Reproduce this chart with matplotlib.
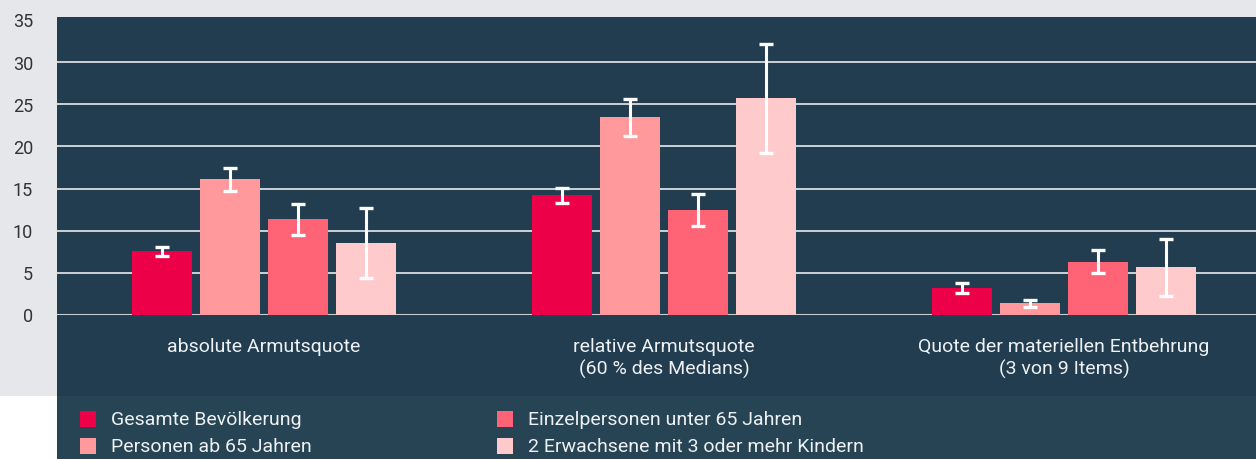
import numpy as np
import matplotlib.pyplot as plt
from matplotlib.patches import Rectangle

# Daten
categories = ['absolute Armutsquote',
              'relative Armutsquote\n(60 % des Medians)',
              'Quote der materiellen Entbehrung\n(3 von 9 Items)']
series_names = ['Gesamte Bevölkerung', 'Personen ab 65 Jahren',
                'Einzelpersonen unter 65 Jahren', '2 Erwachsene mit 3 oder mehr Kindern']
gesamt = [7.6, 14.2, 3.2]
ab65 = [16.1, 23.5, 1.4]
einzel = [11.4, 12.5, 6.3]
familie = [8.5, 25.7, 5.7]
gesamt_lo = [6.95, 13.3, 2.65]
gesamt_hi = [8.1, 15.1, 3.85]
ab65_lo = [14.7, 21.2, 1.0]
ab65_hi = [17.4, 25.6, 1.8]
einzel_lo = [9.5, 10.6, 5.0]
einzel_hi = [13.2, 14.35, 7.7]
familie_lo = [4.4, 19.25, 2.25]
familie_hi = [12.65, 32.2, 9.0]
yticks = [0, 5, 10, 15, 20, 25, 30, 35]

values = [gesamt, ab65, einzel, familie]
lows = [gesamt_lo, ab65_lo, einzel_lo, familie_lo]
highs = [gesamt_hi, ab65_hi, einzel_hi, familie_hi]
colors = ['#ec0048', '#ff999c', '#fe6376', '#ffcacc']

W, H = 1256, 460
panel = '#223d4f'
legend_bg = '#264453'
grey_bg = '#e6e7eb'
font = 'Roboto'

fig = plt.figure(figsize=(W / 100, H / 100), dpi=100, facecolor='white')

def px_rect(x0, y0, x1, y1, color, z=-10):
    # Rechteck in Pixelkoordinaten (y von oben)
    fig.patches.append(Rectangle((x0 / W, 1 - y1 / H), (x1 - x0) / W, (y1 - y0) / H,
                                 transform=fig.transFigure, facecolor=color,
                                 edgecolor='none', zorder=z))

px_rect(0, 0, W, 397, grey_bg, z=-12)
px_rect(57, 18, W, 397, panel, z=-11)
px_rect(57, 397, W, H, legend_bg, z=-11)

ax_left, ax_right, ax_top, ax_bottom = 57, W, 21, 316
ax = fig.add_axes([ax_left / W, 1 - ax_bottom / H, (ax_right - ax_left) / W,
                   (ax_bottom - ax_top) / H])
ax.set_facecolor('none')

x = np.arange(len(categories))
width = 0.152
offsets = [-1.5, -0.5, 0.5, 1.5]
step = 0.17

for ytk in yticks[1:-1]:
    ax.axhline(ytk, color='#e8ecee', lw=1.2, zorder=1)
ax.axhline(0, color='#c9d0d4', lw=1.5, zorder=1)

for vals, lo, hi, col, off in zip(values, lows, highs, colors, offsets):
    xs = x + off * step
    ax.bar(xs, vals, width, color=col, zorder=2)
    v = np.array(vals)
    yerr = np.array([v - np.array(lo), np.array(hi) - v])
    ax.errorbar(xs, v, yerr=yerr, fmt='none', ecolor='white', elinewidth=2.2,
                capsize=4.8, capthick=2.4, zorder=3)

ax.set_xlim(-0.5175, 2.48)
ax.set_ylim(0, 35)
ax.set_xticks([])
ax.set_yticks([])
for s in ax.spines.values():
    s.set_visible(False)

# y-Beschriftung: rechtsbündig ca. 24 px links der Achse
for t in yticks:
    ax.annotate(str(t), xy=(0, t), xycoords=('axes fraction', 'data'),
                xytext=(-24 * 0.72, -1), textcoords='offset points',
                ha='right', va='center', fontsize=13, color='#333333',
                family=font, annotation_clip=False)

for xi, cat in zip(x, categories):
    ax.text(xi, -2.6, cat, ha='center', va='top', color='#eef1f3', fontsize=14,
            family=font, linespacing=1.25, transform=ax.transData, clip_on=False)

# Legende
leg_items = [(80, 420, 0), (80, 447, 1), (497, 420, 2), (497, 447, 3)]
for lx, ly, i in leg_items:
    px_rect(lx, ly - 8, lx + 16, ly + 8, colors[i], z=2)
    fig.text((lx + 31) / W, 1 - ly / H, series_names[i], ha='left', va='center',
             color='#eef1f3', fontsize=14, family=font)

fig.savefig('out.png', dpi=100, facecolor=fig.get_facecolor())
